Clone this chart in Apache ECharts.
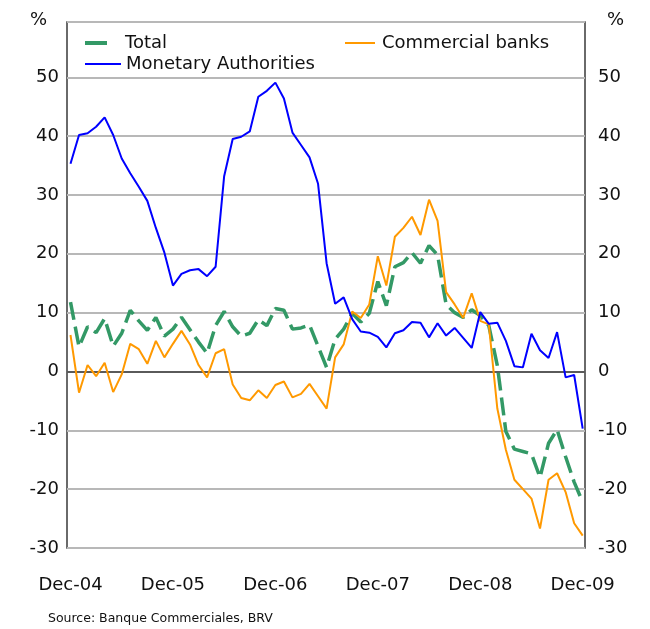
<!DOCTYPE html>
<html>
<head>
<meta charset="utf-8">
<script src="https://cdn.jsdelivr.net/npm/echarts@6/dist/echarts.min.js"></script>
<style>
  html, body { margin: 0; padding: 0; background: #fff; }
  #chart { width: 650px; height: 629px; }
</style>
</head>
<body>
<div id="chart"></div>
<script>
// Monthly annual growth rates (%), Dec-04 .. Dec-09
const tickLabels = ['Dec-04', 'Dec-05', 'Dec-06', 'Dec-07', 'Dec-08', 'Dec-09'];
const tickIndex = [0, 12, 24, 36, 48, 60];

const total = [
  11.8, 4.2, 7.6, 6.6, 9.0, 4.3, 6.5, 10.4, 8.6, 7.0, 9.2, 6.0,
  7.2, 9.2, 7.1, 5.0, 3.1, 7.8, 10.2, 7.6, 6.0, 6.5, 8.8, 7.8,
  10.7, 10.4, 7.2, 7.4, 7.9, 4.3, 0.7, 5.5, 7.2, 9.9, 8.4, 9.9,
  15.3, 11.2, 17.8, 18.5, 20.2, 18.4, 21.4, 19.8, 11.4, 10.0, 9.2, 10.5,
  9.5, 7.8, 1.0, -10.2, -13.2, -13.6, -14.0, -18.0, -12.2, -9.9, -14.5, -18.8,
  -22.2
];

const commercialBanks = [
  6.2, -3.6, 1.1, -0.8, 1.5, -3.5, -0.5, 4.7, 3.8, 1.3, 5.2, 2.4,
  4.7, 6.9, 4.6, 1.1, -1.0, 3.1, 3.8, -2.2, -4.5, -4.9, -3.2, -4.5,
  -2.3, -1.7, -4.4, -3.8, -2.1, -4.2, -6.3, 2.4, 4.6, 10.2, 9.1, 11.4,
  19.6, 14.6, 22.9, 24.4, 26.3, 23.2, 29.2, 25.6, 13.5, 11.4, 9.1, 13.3,
  8.6, 8.0, -6.3, -13.3, -18.4, -20.0, -21.6, -26.7, -18.4, -17.3, -20.5, -25.8,
  -27.9
];

const monetaryAuthorities = [
  35.3, 40.2, 40.5, 41.6, 43.2, 40.2, 36.2, 33.7, 31.4, 29.0, 24.4, 20.2,
  14.6, 16.6, 17.2, 17.4, 16.2, 17.8, 33.2, 39.5, 39.9, 40.8, 46.7, 47.7,
  49.1, 46.4, 40.6, 38.5, 36.4, 31.9, 18.4, 11.5, 12.6, 8.9, 6.8, 6.6,
  5.9, 4.1, 6.5, 7.0, 8.4, 8.3, 5.8, 8.2, 6.1, 7.4, 5.7, 4.0,
  10.1, 8.1, 8.3, 5.2, 0.9, 0.7, 6.4, 3.6, 2.3, 6.7, -1.0, -0.6,
  -9.7
];

const FONT = 'DejaVu Sans';
const withIndex = arr => arr.map((v, i) => [i, v]);

const chart = echarts.init(document.getElementById('chart'), null, { renderer: 'canvas' });

const yAxisBase = {
  type: 'value', min: -30, max: 59.4, interval: 10,
  axisLine: { show: false }, axisTick: { show: false }
};

chart.setOption({
  animation: false,
  backgroundColor: '#ffffff',
  grid: {
    left: 67, right: 65, top: 22, bottom: 81,
    show: true, borderColor: '#3a3a3a', borderWidth: 1.5, backgroundColor: 'transparent'
  },
  legend: [
    {
      data: ['Total'], left: 80, top: 29,
      itemWidth: 22, itemHeight: 4, icon: 'rect',
      textStyle: { fontFamily: FONT, fontSize: 18, color: '#111', padding: [0, 0, 0, 13] }
    },
    {
      data: ['Commercial banks'], left: 340, top: 29,
      itemWidth: 30, itemHeight: 2, icon: 'rect',
      textStyle: { fontFamily: FONT, fontSize: 18, color: '#111', padding: [0, 0, 0, 2] }
    },
    {
      data: ['Monetary Authorities'], left: 80, top: 50,
      itemWidth: 36, itemHeight: 2, icon: 'rect',
      textStyle: { fontFamily: FONT, fontSize: 18, color: '#111' }
    }
  ],
  xAxis: {
    type: 'value', min: -0.41, max: 60.27,
    axisLine: { show: false }, axisTick: { show: false }, splitLine: { show: false },
    axisLabel: {
      customValues: tickIndex,
      formatter: (v) => tickLabels[tickIndex.indexOf(Math.round(v))] || '',
      margin: 28, fontFamily: FONT, fontSize: 18, color: '#111'
    }
  },
  yAxis: [
    Object.assign({}, yAxisBase, {
      position: 'left',
      splitLine: { lineStyle: { color: '#b8b8b8', width: 2 } },
      axisLabel: { showMaxLabel: false, margin: 8, fontFamily: FONT, fontSize: 18, color: '#111' }
    }),
    Object.assign({}, yAxisBase, {
      position: 'right',
      splitLine: { show: false },
      axisLabel: { showMaxLabel: false, margin: 13, fontFamily: FONT, fontSize: 18, color: '#111' }
    })
  ],
  series: [
    {
      name: 'Total', type: 'line', data: withIndex(total), showSymbol: false, z: 2,
      color: '#339966',
      lineStyle: { color: '#339966', width: 3.5, type: [18, 7] },
      markLine: {
        silent: true, symbol: 'none', label: { show: false },
        lineStyle: { color: '#5a5a5a', width: 2, type: 'solid' },
        data: [{ yAxis: 0 }], z: 1
      }
    },
    {
      name: 'Commercial banks', type: 'line', data: withIndex(commercialBanks), showSymbol: false, z: 3,
      color: '#ff9900',
      lineStyle: { color: '#ff9900', width: 2 }
    },
    {
      name: 'Monetary Authorities', type: 'line', data: withIndex(monetaryAuthorities), showSymbol: false, z: 4,
      color: '#0000ff',
      lineStyle: { color: '#0000ff', width: 2 }
    }
  ],
  graphic: [
    {
      type: 'text', left: 30, top: 11,
      style: { text: '%', fontFamily: FONT, fontSize: 18, fill: '#111' }
    },
    {
      type: 'text', left: 607, top: 11,
      style: { text: '%', fontFamily: FONT, fontSize: 18, fill: '#111' }
    },
    {
      type: 'text', left: 48, top: 612,
      style: { text: 'Source: Banque Commerciales, BRV', fontFamily: FONT, fontSize: 12.5, fill: '#111' }
    }
  ]
});
</script>
</body>
</html>
